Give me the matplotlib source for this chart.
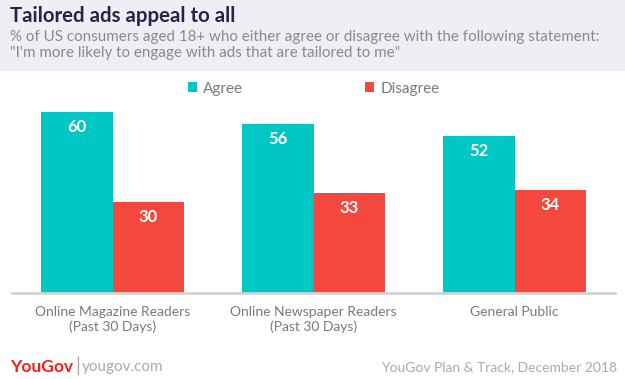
import matplotlib.pyplot as plt
import numpy as np

categories = ["Online Magazine Readers\n(Past 30 Days)",
              "Online Newspaper Readers\n(Past 30 Days)",
              "General Public"]
agree = [60, 56, 52]
disagree = [30, 33, 34]

teal = '#00c7c4'
red = '#f4473e'
grey_txt = '#7a7a7a'

plt.rcParams['font.family'] = ['Lato', 'DejaVu Sans']

W, H = 625, 379
fig = plt.figure(figsize=(W / 100, H / 100), dpi=100)

# header band
fig.patches.append(plt.Rectangle((0, 1 - 70 / H), 1, 70 / H, transform=fig.transFigure,
                                 color='#efeef4', zorder=0))
fig.text(10 / W, 1 - 16 / H, "Tailored ads appeal to all", fontsize=14.7, fontweight='bold',
         color='#2a2248', va='center', ha='left')
fig.text(10 / W, 1 - 37 / H,
         "% of US consumers aged 18+ who either agree or disagree with the following statement:",
         fontsize=10.9, color='#8a8a8a', va='center', ha='left')
fig.text(10 / W, 1 - 53 / H, "\"I'm more likely to engage with ads that are tailored to me\"",
         fontsize=10.9, color='#8a8a8a', va='center', ha='left')

# plot area
left, right = 12, 615
base, top = 293, 293 - 70 * 3.02
ax = fig.add_axes([left / W, 1 - base / H, (right - left) / W, (base - top) / H])
x = np.arange(len(categories))
bw = 0.358
b1 = ax.bar(x - bw / 2, agree, bw, color=teal, label='Agree', zorder=2)
b2 = ax.bar(x + bw / 2, disagree, bw, color=red, label='Disagree', zorder=2)
for bars, vals in [(b1, agree), (b2, disagree)]:
    for b, v in zip(bars, vals):
        ax.text(b.get_x() + b.get_width() / 2, v - 5, str(v), ha='center', va='center',
                color='white', fontsize=12, fontweight='bold')

ax.set_xlim(-0.5, 2.5)
ax.set_ylim(0, 70)
ax.set_yticks([])
ax.set_xticks(x)
ax.set_xticklabels(categories, fontsize=10, color=grey_txt, linespacing=1.3)
ax.tick_params(axis='x', length=0, pad=9)
for s in ['top', 'right', 'left']:
    ax.spines[s].set_visible(False)
ax.spines['bottom'].set_color('#d3d3d3')
ax.spines['bottom'].set_linewidth(2)
ax.spines['bottom'].set_zorder(3)

ax.legend(loc='upper center', bbox_to_anchor=(0.5, 1.065), ncol=2, frameon=False,
          fontsize=11, handlelength=0.6, handleheight=0.6, columnspacing=8,
          handletextpad=0.4, labelcolor=grey_txt)

# footer
fig.text(10 / W, 1 - 367 / H, "YouGov", fontsize=12.5, fontweight='bold', color='#ff1a1a',
         va='center', ha='left')
fig.text(75 / W, 1 - 366 / H, "|", fontsize=14, color='#aaaaaa', va='center', ha='left')
fig.text(82 / W, 1 - 367 / H, "yougov.com", fontsize=11, color='#aaaaaa',
         va='center', ha='left')
fig.text(617 / W, 1 - 367 / H, "YouGov Plan & Track, December 2018", fontsize=10,
         color='#aaaaaa', va='center', ha='right')

fig.savefig('out.png', dpi=100)
